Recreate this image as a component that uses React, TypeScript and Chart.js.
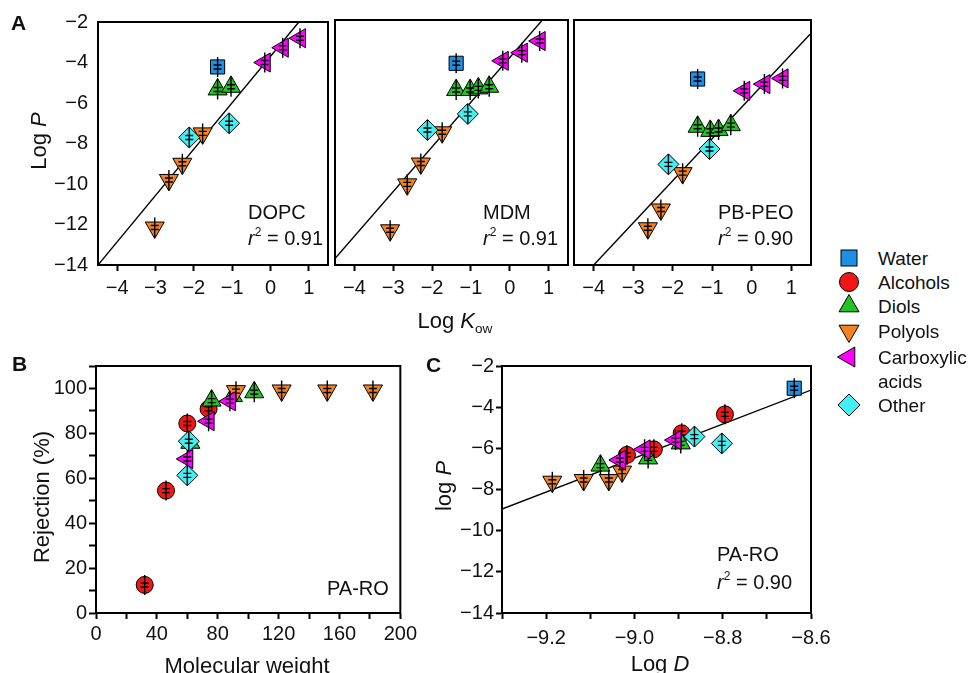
import React, { useEffect, useRef } from 'react';
import { Chart, registerables } from 'chart.js';

Chart.register(...registerables);

const FONT = '"Liberation Sans", Arial, Helvetica, sans-serif';
type Pt = [number, number];

// ---------- categories ----------
const categoryKeys = ['water', 'alcohols', 'diols', 'polyols', 'carboxylic', 'other'];
const categoryLabels = [['Water'], ['Alcohols'], ['Diols'], ['Polyols'], ['Carboxylic', 'acids'], ['Other']];

// ---------- Panel A: DOPC (x = Log Kow, y = Log P) ----------
const dopcWater: Pt[] = [[-1.38, -4.22]];
const dopcDiols: Pt[] = [[-1.38, -5.33], [-1.03, -5.2]];
const dopcPolyols: Pt[] = [[-3.02, -12.15], [-2.65, -9.8], [-2.3, -9.0], [-1.77, -7.5]];
const dopcCarboxylic: Pt[] = [[-0.15, -4.0], [0.32, -3.27], [0.77, -2.8]];
const dopcOther: Pt[] = [[-2.12, -7.7], [-1.08, -7.0]];
const dopcFit: Pt[] = [[-4.5, -14], [0.74, -2]];

// ---------- Panel A: MDM ----------
const mdmWater: Pt[] = [[-1.38, -4.12]];
const mdmDiols: Pt[] = [[-1.38, -5.43], [-1.02, -5.43], [-0.81, -5.35], [-0.53, -5.27]];
const mdmPolyols: Pt[] = [[-3.08, -12.3], [-2.64, -10.05], [-2.29, -9.03], [-1.74, -7.5]];
const mdmCarboxylic: Pt[] = [[-0.18, -4.0], [0.31, -3.6], [0.77, -3.03]];
const mdmOther: Pt[] = [[-2.12, -7.39], [-1.08, -6.6]];
const mdmFit: Pt[] = [[-4.5, -13.68], [0.84, -2]];

// ---------- Panel A: PB-PEO ----------
const pbWater: Pt[] = [[-1.37, -4.89]];
const pbDiols: Pt[] = [[-1.37, -7.23], [-1.05, -7.43], [-0.84, -7.39], [-0.53, -7.15]];
const pbPolyols: Pt[] = [[-2.63, -12.2], [-2.3, -11.28], [-1.75, -9.5]];
const pbCarboxylic: Pt[] = [[-0.19, -5.47], [0.32, -5.14], [0.78, -4.86]];
const pbOther: Pt[] = [[-2.11, -9.07], [-1.07, -8.32]];
const pbFit: Pt[] = [[-4.0, -14], [1.5, -2.65]];

// ---------- Panel B: rejection vs molecular weight ----------
const bAlcohols: Pt[] = [[32, 12.5], [46, 54.5], [60, 84.4], [74, 90.9]];
const bDiols: Pt[] = [[62, 75.8], [76, 94.6], [90, 96.6], [104, 98.3]];
const bPolyols: Pt[] = [[92, 98.8], [122, 99.1], [152, 99.1], [182, 99.1]];
const bCarboxylic: Pt[] = [[60, 68.6], [74, 85.4], [88, 94.3]];
const bOther: Pt[] = [[60, 61.3], [61, 76.5]];

// ---------- Panel C: log P vs log D ----------
const cWater: Pt[] = [[-8.638, -3.08]];
const cAlcohols: Pt[] = [[-8.795, -4.35], [-8.893, -5.27], [-8.956, -6.05], [-9.017, -6.32]];
const cDiols: Pt[] = [[-9.077, -6.84], [-8.969, -6.49], [-8.895, -5.76]];
const cPolyols: Pt[] = [[-9.186, -7.62], [-9.115, -7.54], [-9.058, -7.54], [-9.028, -7.13]];
const cCarboxylic: Pt[] = [[-9.033, -6.57], [-8.977, -6.05], [-8.907, -5.6]];
const cOther: Pt[] = [[-8.864, -5.43], [-8.802, -5.76]];
const cFit: Pt[] = [[-9.3, -8.95], [-8.6, -3.17]];

// ---------- ticks ----------
const aXTicks = [-4, -3, -2, -1, 0, 1];
const aYTicks = [-2, -4, -6, -8, -10, -12, -14];
const bXTicks = [0, 20, 40, 60, 80, 100, 120, 140, 160, 180, 200];
const bXLabels = [0, 40, 80, 120, 160, 200];
const bYTicks = [0, 10, 20, 30, 40, 50, 60, 70, 80, 90, 100, 110];
const bYLabels = [0, 20, 40, 60, 80, 100];
const cXTicks = [-9.3, -9.2, -9.1, -9.0, -8.9, -8.8, -8.7, -8.6];
const cXLabels = [-9.2, -9.0, -8.8, -8.6];
const cYTicks = [-2, -4, -6, -8, -10, -12, -14];

// ---------- styles ----------
const STYLE: Record<string, { ps: string; rot: number; r: number; color: string }> = {
  water: { ps: 'rect', rot: 0, r: 10, color: '#1f8fe6' },
  alcohols: { ps: 'circle', rot: 0, r: 8.5, color: '#f21616' },
  diols: { ps: 'triangle', rot: 0, r: 11, color: '#22c322' },
  polyols: { ps: 'triangle', rot: 180, r: 11, color: '#f5821f' },
  carboxylic: { ps: 'triangle', rot: 270, r: 11, color: '#ff00ff' },
  other: { ps: 'rectRot', rot: 0, r: 10.5, color: '#3ff0f5' },
};
// drawing order: first listed is drawn on top
const DRAW_ORDER = ['other', 'carboxylic', 'polyols', 'diols', 'alcohols', 'water'];

const fmtInt = (v: number) => String(v).replace('-', '\u2212');
const fmt1 = (v: number) => v.toFixed(1).replace('-', '\u2212');

const errorBarPlugin = {
  id: 'errbars',
  afterDatasetDraw(chart: any, args: any) {
    const ds = chart.data.datasets[args.index];
    if (ds.showLine) return;
    const ctx = chart.ctx;
    ctx.save();
    ctx.strokeStyle = '#000';
    ctx.lineWidth = 1.4;
    args.meta.data.forEach((el: any) => {
      const x = el.x, y = el.y;
      ctx.beginPath();
      ctx.moveTo(x, y - 10); ctx.lineTo(x, y + 10);
      ctx.moveTo(x - 4, y - 2); ctx.lineTo(x + 4, y - 2);
      ctx.moveTo(x - 4, y + 2); ctx.lineTo(x + 4, y + 2);
      ctx.stroke();
    });
    ctx.restore();
  },
};

const boxPlugin = {
  id: 'box',
  afterDraw(chart: any) {
    const { left, top, right, bottom } = chart.chartArea;
    const ctx = chart.ctx;
    ctx.save();
    ctx.strokeStyle = '#000';
    ctx.lineWidth = 2;
    ctx.strokeRect(left, top, right - left, bottom - top);
    ctx.restore();
  },
};

interface AxisSpec {
  min: number; max: number; ticks: number[]; labeled: number[];
  fmt: (v: number) => string; tickLen: number; pad: number; show: boolean;
}

function makeAxis(spec: AxisSpec, horizontal: boolean, size: number) {
  return {
    type: 'linear',
    min: spec.min,
    max: spec.max,
    afterBuildTicks: (s: any) => { s.ticks = spec.ticks.map((v) => ({ value: v })); },
    afterFit: (s: any) => { if (horizontal) s.height = size; else s.width = size; },
    ticks: {
      display: spec.show,
      autoSkip: false,
      maxRotation: 0,
      minRotation: 0,
      padding: spec.pad,
      color: '#111',
      font: { family: FONT, size: 20 },
      callback: (v: number) => (spec.labeled.some((l) => Math.abs(l - v) < 1e-9) ? spec.fmt(v) : ''),
    },
    grid: {
      display: true,
      drawOnChartArea: false,
      drawTicks: spec.tickLen > 0,
      tickLength: spec.tickLen,
      tickWidth: 2,
      tickColor: '#000',
    },
    border: { display: true, color: '#000', width: 2 },
  };
}

interface PanelSpec {
  left: number; top: number; w: number; h: number;
  area: { l: number; t: number; r: number; b: number };
  groups: Record<string, Pt[]>;
  fit?: Pt[];
  x: AxisSpec; y: AxisSpec;
}

function buildConfig(p: PanelSpec): any {
  const datasets: any[] = DRAW_ORDER.filter((k) => p.groups[k]).map((k) => ({
    label: k,
    data: p.groups[k].map(([x, y]) => ({ x, y })),
    pointStyle: STYLE[k].ps,
    rotation: STYLE[k].rot,
    pointRotation: STYLE[k].rot,
    pointRadius: STYLE[k].r,
    pointBackgroundColor: STYLE[k].color,
    pointBorderColor: '#000',
    pointBorderWidth: 1,
    showLine: false,
  }));
  if (p.fit) {
    datasets.push({
      label: 'fit',
      data: p.fit.map(([x, y]) => ({ x, y })),
      showLine: true,
      borderColor: '#000',
      borderWidth: 1.4,
      pointRadius: 0,
      fill: false,
      tension: 0,
    });
  }
  return {
    type: 'scatter',
    data: { datasets },
    options: {
      animation: false,
      responsive: false,
      maintainAspectRatio: false,
      devicePixelRatio: 1,
      events: [],
      layout: { padding: { left: 0, top: p.area.t, right: p.w - p.area.r, bottom: 0 } },
      plugins: { legend: { display: false }, tooltip: { enabled: false } },
      scales: {
        x: makeAxis(p.x, true, p.h - p.area.b),
        y: makeAxis(p.y, false, p.area.l),
      },
    },
    plugins: [errorBarPlugin, boxPlugin],
  };
}

function Panel({ spec }: { spec: PanelSpec }) {
  const ref = useRef<HTMLCanvasElement>(null);
  useEffect(() => {
    const chart = new Chart(ref.current as HTMLCanvasElement, buildConfig(spec));
    return () => chart.destroy();
  }, []);
  return (
    <canvas
      ref={ref}
      width={spec.w}
      height={spec.h}
      style={{ position: 'absolute', left: spec.left, top: spec.top, width: spec.w, height: spec.h }}
    />
  );
}

const aX = (): AxisSpec => ({ min: -4.5, max: 1.5, ticks: aXTicks, labeled: aXTicks, fmt: fmtInt, tickLen: 6, pad: 5, show: true });
const aY = (show: boolean): AxisSpec => ({ min: -14, max: -2, ticks: aYTicks, labeled: aYTicks, fmt: fmtInt, tickLen: 0, pad: 10, show });

const panels: PanelSpec[] = [
  {
    left: 0, top: 0, w: 340, h: 300, area: { l: 98, t: 20, r: 335, b: 265 },
    groups: { water: dopcWater, diols: dopcDiols, polyols: dopcPolyols, carboxylic: dopcCarboxylic, other: dopcOther },
    fit: dopcFit, x: aX(), y: aY(true),
  },
  {
    left: 300, top: 0, w: 280, h: 300, area: { l: 35, t: 20, r: 274, b: 265 },
    groups: { water: mdmWater, diols: mdmDiols, polyols: mdmPolyols, carboxylic: mdmCarboxylic, other: mdmOther },
    fit: mdmFit, x: aX(), y: aY(false),
  },
  {
    left: 540, top: 0, w: 290, h: 300, area: { l: 34, t: 20, r: 271, b: 265 },
    groups: { water: pbWater, diols: pbDiols, polyols: pbPolyols, carboxylic: pbCarboxylic, other: pbOther },
    fit: pbFit, x: aX(), y: aY(false),
  },
  {
    left: 0, top: 330, w: 420, h: 343, area: { l: 96, t: 36, r: 404, b: 283 },
    groups: { alcohols: bAlcohols, diols: bDiols, polyols: bPolyols, carboxylic: bCarboxylic, other: bOther },
    x: { min: 0, max: 200, ticks: bXTicks, labeled: bXLabels, fmt: fmtInt, tickLen: 6, pad: 3, show: true },
    y: { min: 0, max: 110, ticks: bYTicks, labeled: bYLabels, fmt: fmtInt, tickLen: 7, pad: 2, show: true },
  },
  {
    left: 420, top: 330, w: 440, h: 343, area: { l: 82, t: 36, r: 391, b: 283 },
    groups: { water: cWater, alcohols: cAlcohols, diols: cDiols, polyols: cPolyols, carboxylic: cCarboxylic, other: cOther },
    fit: cFit,
    x: { min: -9.3, max: -8.6, ticks: cXTicks, labeled: cXLabels, fmt: fmt1, tickLen: 6, pad: 7, show: true },
    y: { min: -14, max: -2, ticks: cYTicks, labeled: cYTicks, fmt: fmtInt, tickLen: 6, pad: 2, show: true },
  },
];

function Txt(props: { x: number; y: number; size?: number; center?: boolean; rotate?: boolean; bold?: boolean; children: any }) {
  const { x, y, size = 20, center, rotate, bold, children } = props;
  return (
    <div
      style={{
        position: 'absolute', left: x, top: y, fontFamily: FONT, fontSize: size, lineHeight: 1,
        whiteSpace: 'nowrap', color: '#111', fontWeight: bold ? 'bold' : 'normal',
        transform: center ? `translate(-50%, -50%)${rotate ? ' rotate(-90deg)' : ''}` : 'translate(0, -50%)',
      }}
    >
      {children}
    </div>
  );
}

const Sup = ({ children }: any) => (
  <span style={{ fontSize: '0.6em', position: 'relative', top: '-0.75em' }}>{children}</span>
);
const Sub = ({ children }: any) => (
  <span style={{ fontSize: '0.62em', position: 'relative', top: '0.4em' }}>{children}</span>
);
const R2 = ({ v }: { v: string }) => (
  <span><i>r</i><Sup>2</Sup> = {v}</span>
);

function Marker({ kind }: { kind: string }) {
  const c = STYLE[kind].color;
  let shape: any = null;
  if (kind === 'water') shape = <rect x={-8} y={-8} width={16} height={16} fill={c} stroke="#000" strokeWidth={1} />;
  else if (kind === 'alcohols') shape = <circle r={9.5} fill={c} stroke="#000" strokeWidth={1} />;
  else if (kind === 'diols') shape = <polygon points="0,-11.5 10,5.8 -10,5.8" fill={c} stroke="#000" strokeWidth={1} />;
  else if (kind === 'polyols') shape = <polygon points="0,11.5 10,-5.8 -10,-5.8" fill={c} stroke="#000" strokeWidth={1} />;
  else if (kind === 'carboxylic') shape = <polygon points="-11.5,0 5.8,-10 5.8,10" fill={c} stroke="#000" strokeWidth={1} />;
  else shape = <polygon points="0,-11 11,0 0,11 -11,0" fill={c} stroke="#000" strokeWidth={1} />;
  return (
    <svg width={26} height={26} viewBox="-13 -13 26 26" style={{ display: 'block' }}>{shape}</svg>
  );
}

const legendY = [258, 282, 306, 331, 357, 405];

export default function App() {
  return (
    <div style={{ position: 'absolute', left: 0, top: 0, width: 973, height: 673, overflow: 'hidden', background: '#fff' }}>
      {panels.map((p, i) => <Panel key={i} spec={p} />)}

      {/* panel letters */}
      <Txt x={11} y={22} size={21} bold>A</Txt>
      <Txt x={12} y={363} size={21} bold>B</Txt>
      <Txt x={426} y={364} size={21} bold>C</Txt>

      {/* axis titles */}
      <Txt x={39} y={141} size={22} center rotate>Log <i>P</i></Txt>
      <Txt x={455} y={321} size={22} center>Log <i>K</i><Sub>ow</Sub></Txt>
      <Txt x={42} y={497} size={22} center rotate>Rejection (%)</Txt>
      <Txt x={247} y={666} size={22} center>Molecular weight</Txt>
      <Txt x={444} y={486} size={22} center rotate>log <i>P</i></Txt>
      <Txt x={660} y={664} size={22} center>Log <i>D</i></Txt>

      {/* annotations */}
      <Txt x={248} y={212} size={20}>DOPC</Txt>
      <Txt x={248} y={238} size={20}><R2 v="0.91" /></Txt>
      <Txt x={483} y={212} size={20}>MDM</Txt>
      <Txt x={483} y={238} size={20}><R2 v="0.91" /></Txt>
      <Txt x={718} y={212} size={20}>PB-PEO</Txt>
      <Txt x={718} y={238} size={20}><R2 v="0.90" /></Txt>
      <Txt x={327} y={588} size={20}>PA-RO</Txt>
      <Txt x={717} y={554} size={20}>PA-RO</Txt>
      <Txt x={717} y={582} size={20}><R2 v="0.90" /></Txt>

      {/* legend */}
      {categoryKeys.map((k, i) => (
        <React.Fragment key={k}>
          <div style={{ position: 'absolute', left: 849 - 13, top: legendY[i] - 13 }}>
            <Marker kind={k} />
          </div>
          {categoryLabels[i].map((line, j) => (
            <Txt key={j} x={878} y={legendY[i] + j * 24} size={19}>{line}</Txt>
          ))}
        </React.Fragment>
      ))}
    </div>
  );
}
